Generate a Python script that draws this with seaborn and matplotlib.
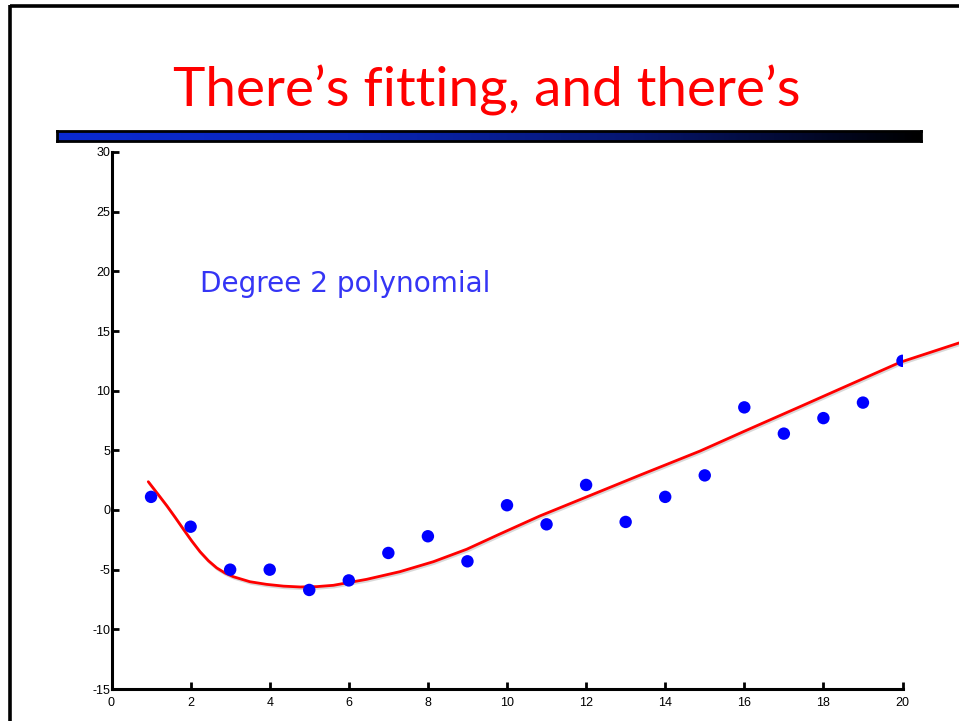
import numpy as np
import pandas as pd
import seaborn as sns
import matplotlib
matplotlib.use("Agg")
import matplotlib.pyplot as plt
from matplotlib.colors import LinearSegmentedColormap
from matplotlib.lines import Line2D
import matplotlib.patheffects as pe

# ---- data ----
x_pts = [1, 2, 3, 4, 5, 6, 7, 8, 9, 10, 11, 12, 13, 14, 15, 16, 17, 18, 19, 20]
y_pts = [1.1, -1.4, -5.0, -5.0, -6.7, -5.9, -3.6, -2.2, -4.3, 0.4,
         -1.2, 2.1, -1.0, 1.1, 2.9, 8.6, 6.4, 7.7, 9.0, 12.5]

fit_x = [0.93, 1.18, 1.40, 1.61, 1.82, 2.03, 2.24, 2.45, 2.66, 2.87, 3.08,
         3.50, 3.92, 4.35, 4.77, 5.19, 5.61, 6.45, 7.29, 8.14, 8.98, 9.82,
         10.83, 12.0, 13.36, 14.88, 16.0, 17.41, 18.0, 19.94, 21.43]
fit_y = [2.37, 1.30, 0.35, -0.62, -1.62, -2.60, -3.50, -4.25, -4.85, -5.28,
         -5.59, -6.01, -6.23, -6.38, -6.45, -6.42, -6.31, -5.81, -5.17, -4.33,
         -3.29, -2.01, -0.50, 1.08, 2.92, 4.94, 6.60, 8.66, 9.53, 12.38, 14.0]

x_ticks = [0, 2, 4, 6, 8, 10, 12, 14, 16, 18, 20]
y_ticks = [-15, -10, -5, 0, 5, 10, 15, 20, 25, 30]

title_text = "There\u2019s fitting, and there\u2019s"
note_text = "Degree 2 polynomial"

pts = pd.DataFrame({"x": x_pts, "y": y_pts})
fit = pd.DataFrame({"x": fit_x, "y": fit_y})

sns.set_style("white")
plt.rcParams["font.family"] = ["Liberation Sans", "DejaVu Sans"]

W, H = 959, 721
fig = plt.figure(figsize=(W / 100, H / 100), dpi=100)

def fx(px):
    return px / W

def fy(py):
    return 1 - py / H

# slide border (top and left visible)
fig.add_artist(Line2D([fx(10), fx(W + 5)], [fy(6), fy(6)], color="black",
                      lw=2.6, transform=fig.transFigure, solid_capstyle="butt"))
fig.add_artist(Line2D([fx(10), fx(10)], [fy(5), fy(H + 5)], color="black",
                      lw=2.6, transform=fig.transFigure, solid_capstyle="butt"))

# title
fig.text(fx(487), fy(106), title_text, color="#ff0000", fontsize=39.5,
         family=["Lato", "DejaVu Sans"], ha="center", va="baseline")

# gradient bar
bar_ax = fig.add_axes([fx(57), fy(141), fx(921) - fx(57), fy(131) - fy(141)])
cmap = LinearSegmentedColormap.from_list("bar", ["#0a2ad2", "#0a26b8", "#061670", "#000000"])
bar_ax.imshow(np.linspace(0, 1, 400)[None, :], aspect="auto", cmap=cmap,
              extent=[0, 1, 0, 1])
bar_ax.set_xticks([])
bar_ax.set_yticks([])
for s in bar_ax.spines.values():
    s.set_visible(True)
    s.set_color("black")
    s.set_linewidth(2.0)

# main axes
ax = fig.add_axes([fx(111.5), fy(689), fx(902.5) - fx(111.5), fy(152) - fy(689)])
ax.set_facecolor("none")

sns.lineplot(data=fit, x="x", y="y", ax=ax, color="#ff0000", lw=2.0,
             sort=False, estimator=None)
for ln in ax.get_lines():
    ln.set_clip_on(False)
    ln.set_solid_joinstyle("round")
    ln.set_path_effects([pe.SimpleLineShadow(offset=(0.8, -1.2), alpha=0.15,
                                             shadow_color="black"), pe.Normal()])

sns.scatterplot(data=pts, x="x", y="y", ax=ax, color="#0000ff", s=80,
                edgecolor="none", zorder=3)

ax.set_xlim(0, 20)
ax.set_ylim(-15, 30)
ax.set_xticks(x_ticks)
ax.set_yticks(y_ticks)
ax.set_xticklabels([str(v) for v in x_ticks])
ax.set_yticklabels([str(v) for v in y_ticks])
ax.set_xlabel("")
ax.set_ylabel("")

for side in ["top", "right"]:
    ax.spines[side].set_visible(False)
for side in ["left", "bottom"]:
    ax.spines[side].set_visible(True)
    ax.spines[side].set_linewidth(2.2)
    ax.spines[side].set_color("black")

ax.tick_params(axis="both", which="major", bottom=True, left=True,
               top=False, right=False, direction="in", length=5, width=2.0,
               colors="black", labelsize=9)
ax.tick_params(axis="y", pad=1)
ax.tick_params(axis="x", pad=6)

fig.text(fx(200), fy(292), note_text, color="#3535f5", fontsize=20.2,
         family=["DejaVu Sans"], ha="left", va="baseline")

fig.savefig("out.png", dpi=100)
